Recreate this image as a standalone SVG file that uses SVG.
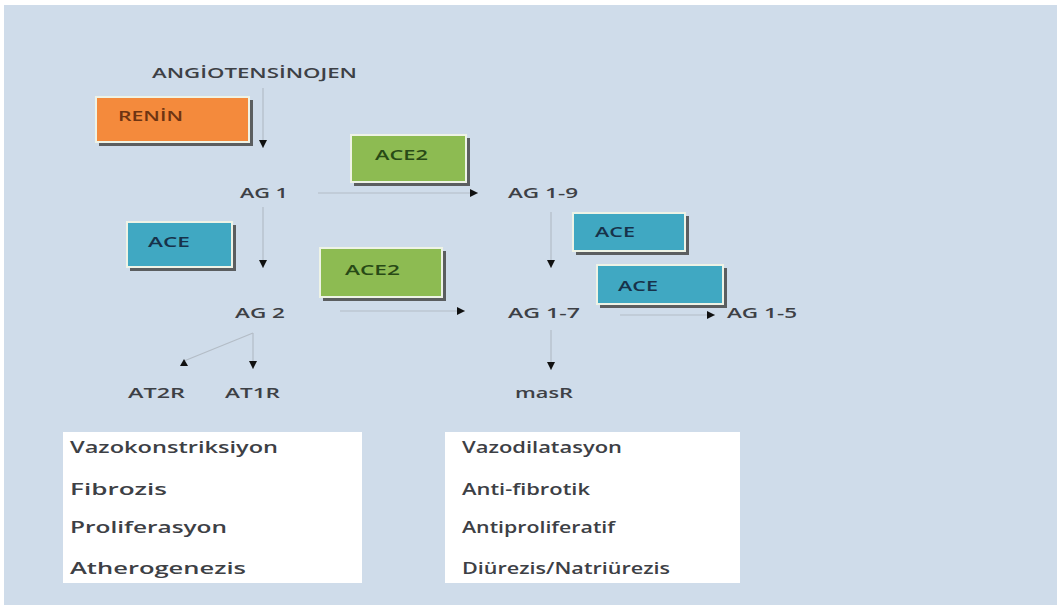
<svg xmlns="http://www.w3.org/2000/svg" width="1057" height="605" viewBox="0 0 1057 605">
<style>
.lbl{font-family:"Open Sans","Liberation Sans",sans-serif;font-weight:600;font-size:15px;fill:#3d4045}
.blbl{font-family:"Open Sans","Liberation Sans",sans-serif;font-weight:600;font-size:13.5px}
.big{font-family:"Open Sans","Liberation Sans",sans-serif;font-weight:600;font-size:17px;fill:#3d4045}
.shadow{fill:#5b5e60}
.box{stroke:#eef3e6;stroke-width:2}
.orange{fill:#f48a3c}
.green{fill:#8dbb52}
.teal{fill:#40a8c2}
.tOr{fill:#6e3412}
.tGr{fill:#284a16}
.tTe{fill:#17324a}
.conn{stroke:#b3bcc6;stroke-width:1.2;fill:none}
.panel{fill:#ffffff}
</style>
<defs>
<marker id="arr" markerUnits="userSpaceOnUse" markerWidth="9" markerHeight="9" refX="8" refY="4" orient="auto">
<path d="M0,0 L8,4 L0,8 z" fill="#111"/>
</marker>
<marker id="arrUp" markerUnits="userSpaceOnUse" markerWidth="10" markerHeight="10" refX="4" refY="2" orient="0">
<path d="M0,7 L4,0 L8,7 z" fill="#111"/>
</marker>
</defs>
<rect x="0" y="0" width="1057" height="605" fill="#ffffff"/>
<rect x="4" y="5" width="1053" height="600" fill="#cfdcea"/>

<g id="connectors">
<line class="conn" x1="263" y1="88" x2="263" y2="148" marker-end="url(#arr)"/>
<line class="conn" x1="263" y1="207" x2="263" y2="268" marker-end="url(#arr)"/>
<line class="conn" x1="318" y1="193" x2="478" y2="193" marker-end="url(#arr)"/>
<line class="conn" x1="551" y1="212" x2="551" y2="268" marker-end="url(#arr)"/>
<line class="conn" x1="340" y1="311" x2="465" y2="311" marker-end="url(#arr)"/>
<line class="conn" x1="620" y1="315" x2="715" y2="315" marker-end="url(#arr)"/>
<line class="conn" x1="551" y1="330" x2="551" y2="370" marker-end="url(#arr)"/>
<line class="conn" x1="253" y1="333" x2="253" y2="369" marker-end="url(#arr)"/>
<line class="conn" x1="253" y1="333" x2="184" y2="361" marker-end="url(#arrUp)"/>
</g>

<g id="angiotensinojen"><text class="lbl" x="152" y="78" textLength="205" lengthAdjust="spacingAndGlyphs">ANGİOTENSİNOJEN</text></g>

<g id="renin">
<rect class="shadow" x="99" y="100" width="154" height="46"/>
<rect class="box orange" x="96" y="97" width="153" height="45"/>
<text class="blbl tOr" x="118" y="121" textLength="65" lengthAdjust="spacingAndGlyphs">RENİN</text>
</g>

<g id="ace2-top">
<rect class="shadow" x="354" y="138" width="116" height="48"/>
<rect class="box green" x="351" y="135" width="115" height="47"/>
<text class="blbl tGr" x="375" y="160" textLength="53" lengthAdjust="spacingAndGlyphs">ACE2</text>
</g>

<g id="ag1"><text class="lbl" x="240" y="198" textLength="48" lengthAdjust="spacingAndGlyphs">AG 1</text></g>
<g id="ag19"><text class="lbl" x="508" y="198" textLength="70" lengthAdjust="spacingAndGlyphs">AG 1-9</text></g>

<g id="ace-left">
<rect class="shadow" x="130" y="225" width="106" height="46"/>
<rect class="box teal" x="127" y="222" width="105" height="45"/>
<text class="blbl tTe" x="148" y="247" textLength="42" lengthAdjust="spacingAndGlyphs">ACE</text>
</g>

<g id="ace2-mid">
<rect class="shadow" x="323" y="251" width="123" height="50"/>
<rect class="box green" x="320" y="248" width="122" height="49"/>
<text class="blbl tGr" x="345" y="275" textLength="55" lengthAdjust="spacingAndGlyphs">ACE2</text>
</g>

<g id="ace-right1">
<rect class="shadow" x="576" y="216" width="113" height="39"/>
<rect class="box teal" x="573" y="213" width="112" height="38"/>
<text class="blbl tTe" x="595" y="237" textLength="40" lengthAdjust="spacingAndGlyphs">ACE</text>
</g>

<g id="ace-right2">
<rect class="shadow" x="600" y="268" width="127" height="40"/>
<rect class="box teal" x="597" y="265" width="126" height="39"/>
<text class="blbl tTe" x="618" y="291" textLength="40" lengthAdjust="spacingAndGlyphs">ACE</text>
</g>

<g id="ag2"><text class="lbl" x="235" y="318" textLength="50" lengthAdjust="spacingAndGlyphs">AG 2</text></g>
<g id="ag17"><text class="lbl" x="508" y="318" textLength="72" lengthAdjust="spacingAndGlyphs">AG 1-7</text></g>
<g id="ag15"><text class="lbl" x="727" y="318" textLength="70" lengthAdjust="spacingAndGlyphs">AG 1-5</text></g>

<g id="at2r"><text class="lbl" x="128" y="398" textLength="57" lengthAdjust="spacingAndGlyphs">AT2R</text></g>
<g id="at1r"><text class="lbl" x="225" y="398" textLength="55" lengthAdjust="spacingAndGlyphs">AT1R</text></g>
<g id="masr"><text class="lbl" x="515" y="398" textLength="58" lengthAdjust="spacingAndGlyphs">masR</text></g>

<g id="effects-left">
<rect class="panel" x="63" y="432" width="299" height="151"/>
<text class="big" x="70" y="453" textLength="208" lengthAdjust="spacingAndGlyphs">Vazokonstriksiyon</text>
<text class="big" x="70" y="495" textLength="97" lengthAdjust="spacingAndGlyphs">Fibrozis</text>
<text class="big" x="70" y="533" textLength="157" lengthAdjust="spacingAndGlyphs">Proliferasyon</text>
<text class="big" x="70" y="574" textLength="176" lengthAdjust="spacingAndGlyphs">Atherogenezis</text>
</g>

<g id="effects-right">
<rect class="panel" x="445" y="432" width="295" height="151"/>
<text class="big" x="462" y="453" textLength="160" lengthAdjust="spacingAndGlyphs">Vazodilatasyon</text>
<text class="big" x="462" y="495" textLength="128" lengthAdjust="spacingAndGlyphs">Anti-fibrotik</text>
<text class="big" x="462" y="533" textLength="153" lengthAdjust="spacingAndGlyphs">Antiproliferatif</text>
<text class="big" x="462" y="574" textLength="208" lengthAdjust="spacingAndGlyphs">Diürezis/Natriürezis</text>
</g>
</svg>
